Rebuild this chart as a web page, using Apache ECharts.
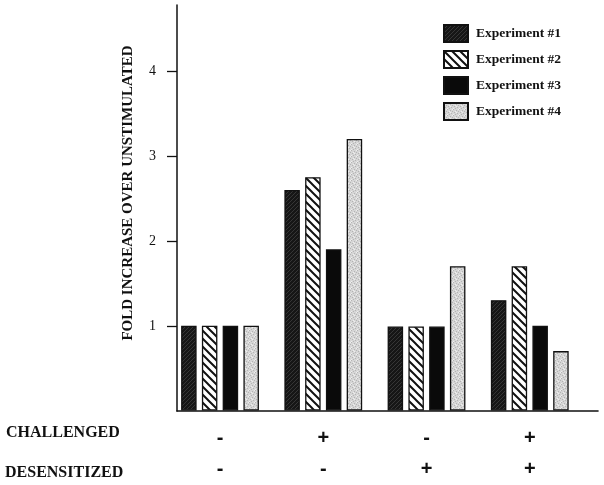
<!DOCTYPE html>
<html>
<head>
<meta charset="utf-8">
<script src="https://cdn.jsdelivr.net/npm/echarts@6/dist/echarts.min.js"></script>
<style>
  html, body { margin: 0; padding: 0; background: #fff; }
  #chart { width: 604px; height: 485px; }
</style>
</head>
<body>
<div id="chart"></div>
<script>
// rows under each group
const challenged = ["-", "+", "-", "+"];
const desensitized = ["-", "-", "+", "+"];
const groups = ["g1", "g2", "g3", "g4"];

const exp1 = [1.0, 2.6, 0.99, 1.3];
const exp2 = [1.0, 2.75, 0.99, 1.7];
const exp3 = [1.0, 1.9, 0.99, 1.0];
const exp4 = [1.0, 3.2, 1.7, 0.7];

const yTicks = [1, 2, 3, 4];
const seriesNames = ["Experiment #1", "Experiment #2", "Experiment #3", "Experiment #4"];

const serif = "'Liberation Serif', 'DejaVu Serif', serif";
const ink = "#111";

// fill patterns, drawn on small canvases
function makePattern(size, draw) {
  const c = document.createElement("canvas");
  c.width = size;
  c.height = size;
  draw(c.getContext("2d"), size);
  return { image: c, repeat: "repeat" };
}

const darkHatch = makePattern(4, (g, s) => {
  g.fillStyle = "#161616";
  g.fillRect(0, 0, s, s);
  g.fillStyle = "#363636";
  for (let i = 0; i < s; i++) g.fillRect(s - 1 - i, i, 1, 1);
});

const stripes = makePattern(8, (g, s) => {
  g.fillStyle = "#fff";
  g.fillRect(0, 0, s, s);
  g.strokeStyle = "#111";
  g.lineWidth = 2;
  g.beginPath();
  g.moveTo(-2, -2); g.lineTo(s + 2, s + 2);
  g.moveTo(-2, s - 2); g.lineTo(2, s + 2);
  g.moveTo(s - 2, -2); g.lineTo(s + 2, 2);
  g.stroke();
});

const speckle = makePattern(6, (g, s) => {
  g.fillStyle = "#d6d6d6";
  g.fillRect(0, 0, s, s);
  g.fillStyle = "#b4b4b4";
  [[0, 1], [3, 0], [4, 3], [1, 4], [5, 5], [2, 2]].forEach(([x, y]) => g.fillRect(x, y, 1, 1));
  g.fillStyle = "#eeeeee";
  [[2, 0], [5, 2], [0, 3], [3, 5]].forEach(([x, y]) => g.fillRect(x, y, 1, 1));
});

const fills = [darkHatch, stripes, "#0a0a0a", speckle];
const values = [exp1, exp2, exp3, exp4];

const chart = echarts.init(document.getElementById("chart"), null, { renderer: "canvas" });

const yMax = 4.78;

chart.setOption({
  animation: false,
  backgroundColor: "#fff",
  textStyle: { fontFamily: serif },
  legend: {
    orient: "vertical",
    left: 443,
    top: 24,
    padding: 0,
    itemWidth: 24,
    itemHeight: 17,
    itemGap: 7,
    icon: "rect",
    data: seriesNames,
    textStyle: {
      fontFamily: serif,
      fontWeight: "bold",
      fontSize: 13.5,
      lineHeight: 17,
      color: ink,
      padding: [0, 0, 0, 3],
    },
  },
  grid: [
    { left: 168.4, width: 413, top: 5, bottom: 74 },
    { left: 177, right: 6, top: 5, bottom: 74 },
  ],
  xAxis: [
    {
      type: "category",
      gridIndex: 0,
      data: groups,
      axisLine: { show: false },
      axisTick: { show: false },
      axisLabel: {
        interval: 0,
        margin: 12.5,
        lineHeight: 31,
        fontFamily: "'Liberation Sans', Arial, sans-serif",
        fontWeight: "bold",
        fontSize: 20,
        color: ink,
        formatter: (v, i) => challenged[i] + "\n" + desensitized[i],
      },
    },
    {
      type: "value",
      gridIndex: 1,
      min: 0,
      max: 1,
      axisLine: { show: true, onZero: false, lineStyle: { color: ink, width: 1.6 } },
      axisTick: { show: false },
      axisLabel: { show: false },
      splitLine: { show: false },
    },
  ],
  yAxis: [
    { type: "value", gridIndex: 0, min: 0, max: yMax, show: false },
    {
      type: "value",
      gridIndex: 1,
      min: 0,
      max: yMax,
      interval: 1,
      axisLine: { show: true, lineStyle: { color: ink, width: 1.5 } },
      axisTick: { show: true, length: 10, customValues: yTicks, lineStyle: { color: ink, width: 1.3 } },
      axisLabel: {
        customValues: yTicks,
        margin: 21,
        fontFamily: serif,
        fontSize: 14,
        color: ink,
      },
      splitLine: { show: false },
    },
  ],
  graphic: [
    {
      type: "text",
      x: 128.5,
      y: 193,
      rotation: Math.PI / 2,
      style: {
        text: "FOLD INCREASE OVER UNSTIMULATED",
        font: "bold 15px " + serif,
        fill: ink,
        align: "center",
        verticalAlign: "middle",
      },
    },
    {
      type: "text",
      x: 6,
      y: 433,
      style: {
        text: "CHALLENGED",
        font: "bold 16px " + serif,
        fill: ink,
        align: "left",
        verticalAlign: "middle",
      },
    },
    {
      type: "text",
      x: 5,
      y: 473,
      style: {
        text: "DESENSITIZED",
        font: "bold 16px " + serif,
        fill: ink,
        align: "left",
        verticalAlign: "middle",
      },
    },
  ],
  series: values.map((vals, k) => ({
    name: seriesNames[k],
    type: "bar",
    xAxisIndex: 0,
    yAxisIndex: 0,
    data: vals,
    barWidth: 15.5,
    barGap: "34%",
    itemStyle: {
      color: fills[k],
      borderColor: ink,
      borderWidth: 1.3,
    },
  })),
});
</script>
</body>
</html>
